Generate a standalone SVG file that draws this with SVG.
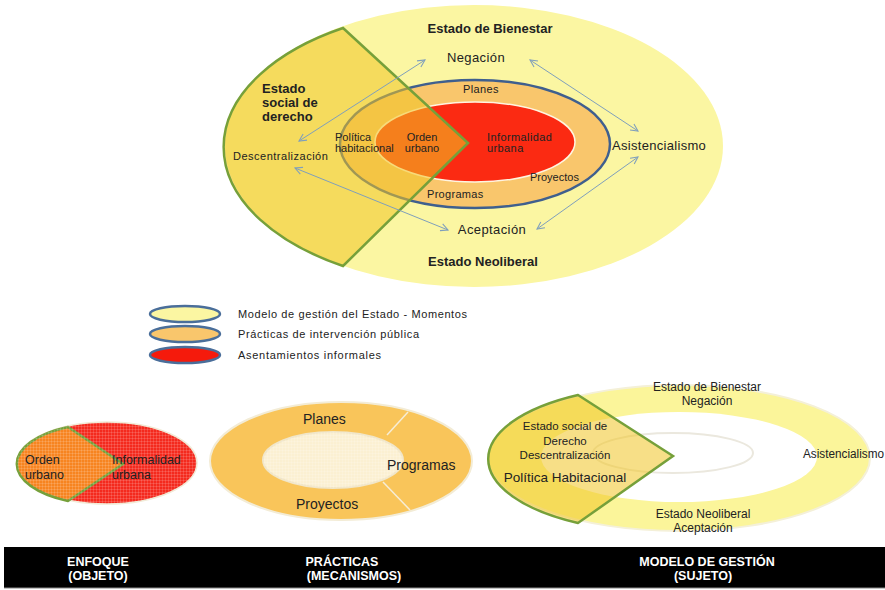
<svg xmlns="http://www.w3.org/2000/svg" width="885" height="590" viewBox="0 0 885 590">
  <defs>
    <marker id="arr" viewBox="0 0 10 10" refX="9" refY="5" markerWidth="9" markerHeight="9" orient="auto-start-reverse" markerUnits="userSpaceOnUse">
      <path d="M1,1 L9,5 L1,9" fill="none" stroke="#7f9fbc" stroke-width="1.2"/>
    </marker>
    <pattern id="grid" width="3" height="3" patternUnits="userSpaceOnUse">
      <path d="M0,0.5 H3 M0.5,0 V3" stroke="#ffffff" stroke-opacity="0.18" stroke-width="0.8"/>
    </pattern>
  </defs>
  <style>
    text { font-family: "Liberation Sans", Arial, sans-serif; fill: #222; }
    .b { font-weight: bold; }
    .sm { font-size: 11px; }
    .md { font-size: 13px; }
    .c { text-anchor: middle; }
    .bar { fill: #fff; font-weight: bold; font-size: 12.5px; text-anchor: middle; }
    .link { stroke: #7f9fbc; stroke-width: 1; fill: none; marker-start: url(#arr); marker-end: url(#arr); }
    .shield { stroke: #76a03a; stroke-width: 2.5; stroke-linejoin: miter; }
    .lg { stroke: #4a6e9a; stroke-width: 2.5; }
  </style>

  <rect width="885" height="590" fill="#ffffff"/>

  <!-- Main model: state management, public practices, informal settlements -->
  <g id="modelo-estado">
    <ellipse cx="474" cy="146" rx="249" ry="141" fill="#fbf6a2"/>
  </g>
  <g id="practicas">
    <ellipse cx="475" cy="144" rx="135" ry="64" fill="#f9c66c" stroke="#3f5f8e" stroke-width="2.5"/>
  </g>
  <g id="asentamientos">
    <ellipse cx="475" cy="142" rx="100" ry="40" fill="#fb2a12" stroke="#fff4e0" stroke-width="1.5"/>
  </g>
  <g id="estado-social">
    <path class="shield" d="M343,28 L468,143 L343,266 A247 139 0 0 1 343,28 Z" fill="#f0c424" fill-opacity="0.55"/>
  </g>

  <g id="conectores">
    <line class="link" x1="299" y1="141" x2="425" y2="60"/>
    <line class="link" x1="530" y1="60" x2="638" y2="131"/>
    <line class="link" x1="295" y1="168" x2="448" y2="230"/>
    <line class="link" x1="638" y1="157" x2="537" y2="229"/>
  </g>

  <g id="etiquetas-modelo">
    <text class="b md c" x="490" y="33">Estado de Bienestar</text>
    <text class="md c" x="476" y="62" letter-spacing="0.4">Negación</text>
    <text class="b md" x="262" y="93">Estado</text>
    <text class="b md" x="262" y="107">social de</text>
    <text class="b md" x="262" y="121">derecho</text>
    <text class="sm" x="233" y="160" letter-spacing="0.5">Descentralización</text>
    <text class="md" x="612" y="150" letter-spacing="0.3">Asistencialismo</text>
    <text class="md c" x="492" y="234" letter-spacing="0.4">Aceptación</text>
    <text class="b md c" x="483" y="266">Estado Neoliberal</text>
    <text class="sm c" x="481" y="93" letter-spacing="0.4">Planes</text>
    <text class="sm" x="335" y="141">Política</text>
    <text class="sm" x="335" y="152">habitacional</text>
    <text class="sm c" x="422" y="141">Orden</text>
    <text class="sm c" x="422" y="152">urbano</text>
    <text class="sm" x="487" y="141" letter-spacing="0.4">Informalidad</text>
    <text class="sm" x="487" y="152" letter-spacing="0.4">urbana</text>
    <text class="sm" x="530" y="181">Proyectos</text>
    <text class="sm" x="427" y="198" letter-spacing="0.3">Programas</text>
  </g>

  <!-- Legend -->
  <g id="leyenda">
    <ellipse class="lg" cx="185" cy="314" rx="35" ry="8" fill="#fbf6a2"/>
    <ellipse class="lg" cx="185" cy="334" rx="35" ry="8" fill="#f9c66c"/>
    <ellipse class="lg" cx="185" cy="355" rx="35" ry="8" fill="#f51a0c"/>
    <text class="sm" x="238" y="318" textLength="229" lengthAdjust="spacing">Modelo de gestión del Estado - Momentos</text>
    <text class="sm" x="238" y="338" textLength="181" lengthAdjust="spacing">Prácticas de intervención pública</text>
    <text class="sm" x="238" y="359" textLength="143" lengthAdjust="spacing">Asentamientos informales</text>
  </g>

  <!-- Focus: object -->
  <g id="enfoque">
    <ellipse cx="107" cy="463" rx="90" ry="41" fill="#f42a1e" stroke="#f1ead6" stroke-width="1.5"/>
    <path class="shield" d="M68,427 L123,464 L68,501 A90 41 0 0 1 68,427 Z" fill="#f78420" stroke-width="3"/>
    <ellipse cx="107" cy="463" rx="90" ry="41" fill="url(#grid)"/>
    <text x="25" y="464" font-size="12.5">Orden</text>
    <text x="25" y="479" font-size="12.5">urbano</text>
    <text x="112" y="464" font-size="12.5">Informalidad</text>
    <text x="112" y="479" font-size="12.5">urbana</text>
  </g>

  <!-- Practices: mechanisms -->
  <g id="mecanismos">
    <ellipse cx="341" cy="461" rx="131" ry="59" fill="#f9c55a" stroke="#f3ecd6" stroke-width="2"/>
    <ellipse cx="333" cy="460" rx="70" ry="28" fill="#fbf0d2" stroke="#f1e6c8" stroke-width="2"/>
    <ellipse cx="333" cy="460" rx="70" ry="28" fill="url(#grid)"/>
    <line x1="387" y1="435" x2="408" y2="412" stroke="#f6edd6" stroke-width="1.5"/>
    <line x1="383" y1="482" x2="410" y2="510" stroke="#f6edd6" stroke-width="1.5"/>
    <text x="303" y="424" font-size="14">Planes</text>
    <text x="387" y="470" font-size="14">Programas</text>
    <text x="296" y="509" font-size="14">Proyectos</text>
  </g>

  <!-- Management model: subject -->
  <g id="sujeto">
    <ellipse cx="679" cy="458" rx="191" ry="73" fill="#fbf59a" stroke="#f4f0d8" stroke-width="2"/>
    <ellipse cx="679" cy="457" rx="138" ry="45" fill="#ffffff"/>
    <ellipse cx="673" cy="453" rx="80" ry="20" fill="none" stroke="#ebe8de" stroke-width="2"/>
    <path class="shield" d="M578,395 L673,456 L578,523 A173 73 0 0 1 578,395 Z" fill="#f0c424" fill-opacity="0.55"/>
    <text class="c" x="707" y="391" font-size="12">Estado de Bienestar</text>
    <text class="c" x="707" y="405" font-size="12">Negación</text>
    <text class="c" x="565" y="430" font-size="11.5">Estado social de</text>
    <text class="c" x="565" y="445" font-size="11.5">Derecho</text>
    <text class="c" x="565" y="459" font-size="11.5">Descentralización</text>
    <text class="c" x="565" y="482" font-size="13.5">Política Habitacional</text>
    <text x="803" y="458" font-size="12" textLength="81" lengthAdjust="spacingAndGlyphs">Asistencialismo</text>
    <text class="c" x="703" y="518" font-size="12">Estado Neoliberal</text>
    <text class="c" x="703" y="532" font-size="12">Aceptación</text>
  </g>

  <!-- Column captions -->
  <g id="pie">
    <rect x="4" y="547" width="881" height="41" fill="#000"/>
    <line x1="4" y1="588" x2="885" y2="588" stroke="#888" stroke-width="1"/>
    <text class="bar" x="98" y="566">ENFOQUE</text>
    <text class="bar" x="98" y="580">(OBJETO)</text>
    <text class="bar" x="342" y="566">PRÁCTICAS</text>
    <text class="bar" x="354" y="580">(MECANISMOS)</text>
    <text class="bar" x="707" y="566">MODELO DE GESTIÓN</text>
    <text class="bar" x="703" y="580">(SUJETO)</text>
  </g>
</svg>
